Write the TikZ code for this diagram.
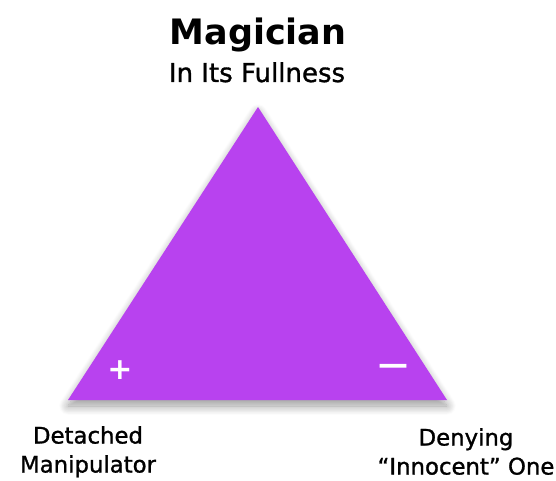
\documentclass[tikz,border=0pt]{standalone}
\usepackage{fontspec}
\setmainfont{DejaVu Sans}
\newfontfamily\medfont[FakeBold=1.2]{DejaVu Sans}
\usetikzlibrary{shadows.blur}
\definecolor{magicpurple}{RGB}{184,66,239}

\begin{document}
\begin{tikzpicture}[
    x=1pt, y=1pt,
    title/.style={font=\bfseries\fontsize{35}{40}\selectfont, inner sep=0pt},
    subtitle/.style={font=\medfont\fontsize{26}{30}\selectfont, inner sep=0pt},
    corner/.style={font=\medfont\fontsize{22.8}{29}\selectfont, align=center, inner sep=0pt},
    sign/.style={font=\bfseries\fontsize{30}{32}\selectfont, text=white, inner sep=0pt}
]
    \useasboundingbox (0,0) rectangle (556,480);

    % Ecken des Dreiecks
    \coordinate (apex) at (258, 373);
    \coordinate (lft)  at (68, 80);
    \coordinate (rgt)  at (447, 80);

    % Dreieck mit weichem Schatten
    \fill[magicpurple, blur shadow={shadow xshift=0pt, shadow yshift=-6pt,
        shadow blur steps=16, shadow blur radius=9pt, shadow opacity=40}]
        (lft) -- (rgt) -- (apex) -- cycle;

    % Titel oben
    \node[title, anchor=base] (magician) at (258, 435) {Magician};
    \node[subtitle, anchor=base] (fullness) at (257, 398) {In Its Fullness};

    % Vorzeichen in den Ecken
    \node[sign] (plus)  at (120, 110) {+};
    \node[sign] (minus) at (393, 111) {—};

    % Beschriftung der unteren Ecken
    \node[corner, anchor=north] (detached) at (88, 54) {Detached\\Manipulator};
    \node[corner, anchor=north] (denying)  at (466, 52) {Denying\\“Innocent” One};
\end{tikzpicture}
\end{document}
